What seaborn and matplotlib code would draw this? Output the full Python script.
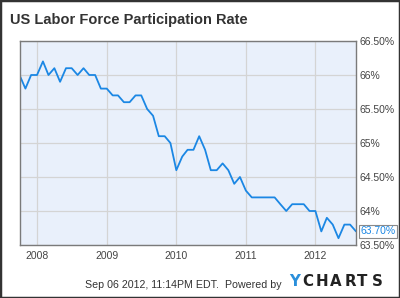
import matplotlib
matplotlib.use("Agg")
import matplotlib.pyplot as plt
from matplotlib.patches import Rectangle
import seaborn as sns
import pandas as pd

# ---- data ----
start_month = "2007-10-01"
rate = [66.0, 65.8, 66.0,
        66.0, 66.2, 66.0, 66.1, 65.9, 66.1, 66.1, 66.0, 66.1, 66.0, 66.0, 65.8,
        65.8, 65.7, 65.7, 65.6, 65.6, 65.7, 65.7, 65.5, 65.4, 65.1, 65.1, 65.0,
        64.6, 64.8, 64.9, 64.9, 65.1, 64.9, 64.6, 64.6, 64.7, 64.6, 64.4, 64.5,
        64.3, 64.2, 64.2, 64.2, 64.2, 64.2, 64.1, 64.0, 64.1, 64.1, 64.1, 64.0,
        64.0, 63.7, 63.9, 63.8, 63.6, 63.8, 63.8, 63.7]
months = pd.date_range(start_month, periods=len(rate), freq="MS")
year_ticks = ["2008", "2009", "2010", "2011", "2012"]
y_ticks = [63.5, 64.0, 64.5, 65.0, 65.5, 66.0, 66.5]
y_labels = ["63.50%", "64%", "64.50%", "65%", "65.50%", "66%", "66.50%"]
last_label = "63.70%"
title = "US Labor Force Participation Rate"
footer = "Sep 06 2012, 11:14PM EDT.  Powered by"
logo = "YCHARTS"

df = pd.DataFrame({"date": months, "rate": rate})

sns.set_style("white")
plt.rcParams["font.family"] = ["Liberation Sans", "DejaVu Sans"]

fig = plt.figure(figsize=(4.0, 2.98), dpi=100)
W, H = 400, 298
ax = fig.add_axes([19.5 / W, 1 - 245 / H, (356 - 19.5) / W, (245 - 41) / H])
ax.set_facecolor("#E9F0FB")

sns.lineplot(data=df, x="date", y="rate", ax=ax, color="#1B87E4", lw=1.3)

ax.set_xlim(months[0], months[-1])
ax.set_ylim(63.5, 66.5)
ax.set_xticks([pd.Timestamp(f"{y}-01-01") for y in year_ticks])
ax.set_xticklabels(year_ticks)
ax.set_yticks(y_ticks)
ax.set_yticklabels(y_labels)
ax.yaxis.tick_right()
ax.tick_params(axis="both", length=0, labelsize=7.5, colors="#444444")
ax.tick_params(axis="y", pad=2.5)
ax.tick_params(axis="x", pad=4)
ax.set_xlabel("")
ax.set_ylabel("")
ax.grid(True, color="#D4D4D4", lw=0.9)
for s in ax.spines.values():
    s.set_visible(True)
    s.set_color("#7A7A7A")
    s.set_linewidth(1.0)

# last value label
ax.annotate(last_label, xy=(1.0, rate[-1]), xycoords=("axes fraction", "data"),
            xytext=(3, 0), textcoords="offset points", ha="left", va="center",
            fontsize=7.5, color="#1B87E4",
            bbox=dict(boxstyle="square,pad=0.15", fc="white", ec="#8A8A8A", lw=0.8),
            annotation_clip=False)

fig.text(10 / W, 1 - 20 / H, title, fontsize=10.5, fontweight="bold",
         color="#333333", ha="left", va="center")
fig.text(282 / W, 1 - 288 / H, footer, fontsize=7.7, color="#333333",
         ha="right", va="baseline")
logo_centers = [295, 308, 322, 336, 350, 362.5, 377.5]
for i, ch in enumerate(logo):
    fig.text(logo_centers[i] / W, 1 - 286 / H, ch, fontsize=10.8,
             fontweight="heavy", family="DejaVu Sans",
             color="#2A8FDB" if i == 0 else "#222222", ha="center", va="baseline")

fig.patches.append(Rectangle((0, 0), 1, 1, transform=fig.transFigure, fill=False,
                             edgecolor="#333333", lw=2.5))

fig.savefig("out.png", dpi=100)
